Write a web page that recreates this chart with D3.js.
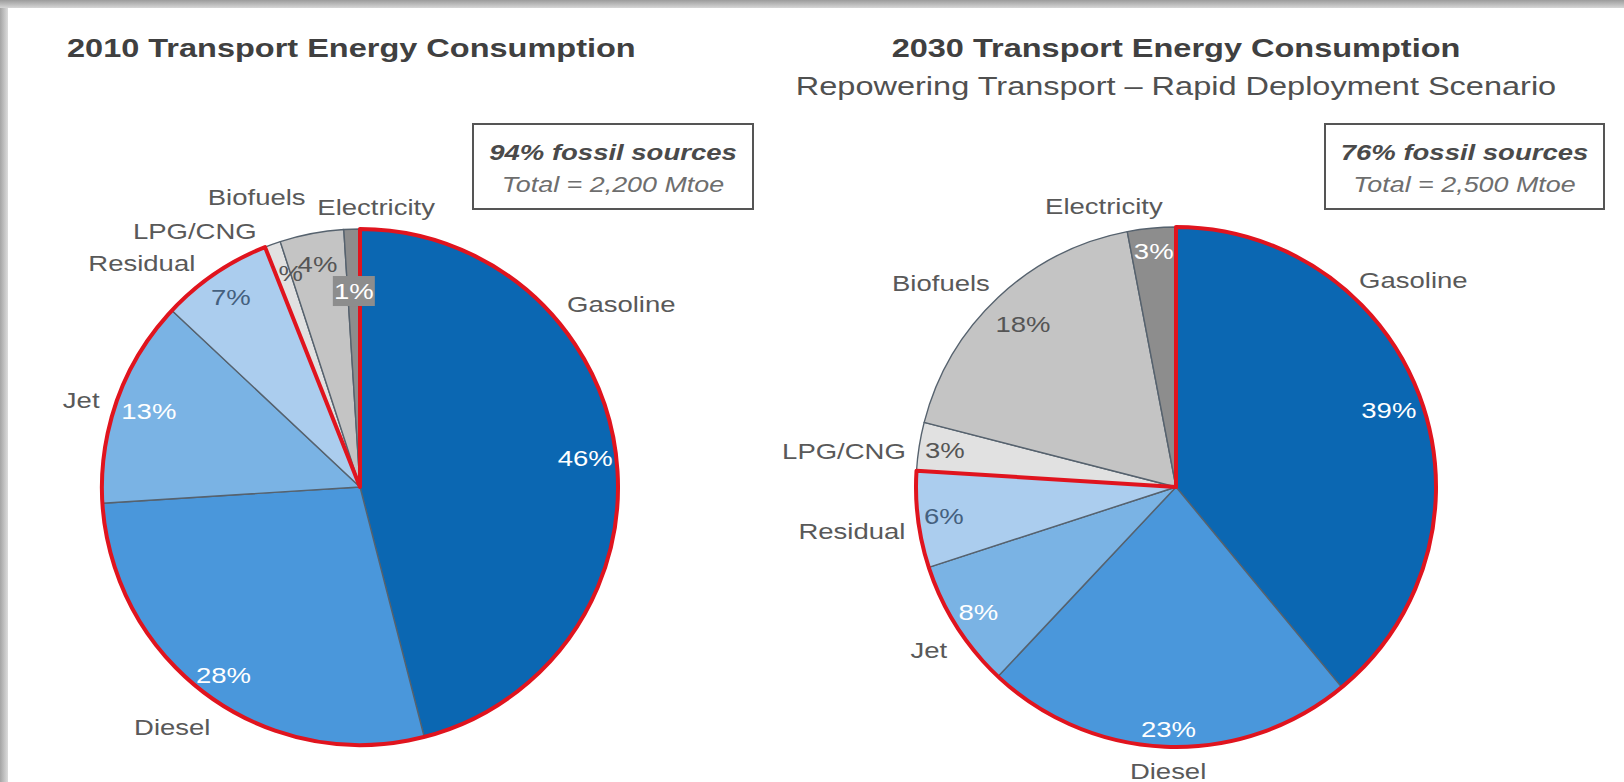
<!DOCTYPE html>
<html>
<head>
<meta charset="utf-8">
<script src="https://cdn.jsdelivr.net/npm/d3@7"></script>
<style>
  body { margin: 0; background: #fff; }
  svg { display: block; font-family: "Liberation Sans", Arial, sans-serif; }
</style>
</head>
<body>
<div id="chart"></div>
<script>
var width = 1624, height = 782;

// data
var categories = ["Gasoline", "Diesel", "Jet", "Residual", "LPG/CNG", "Biofuels", "Electricity"];
var share2010 = [46, 28, 13, 7, 1, 4, 1];
var share2030 = [39, 23, 8, 6, 3, 18, 3];
var fossilCats = ["Gasoline", "Diesel", "Jet", "Residual"];
var totalMtoe = [2200, 2500];
var titles = ["2010 Transport Energy Consumption", "2030 Transport Energy Consumption"];
var subtitle = "Repowering Transport \u2013 Rapid Deployment Scenario";

// styling
var sliceColors = ["#0b67b2", "#4a97db", "#7ab3e4", "#abcdee", "#e1e1e1", "#c4c4c4", "#8d8d8d"];
var pctColors = ["#fff", "#fff", "#fff", "#44607e", "#555", "#555", "#fff"];
var SX = 1.25; // source text is drawn wide

// layout for each pie
var pies = [
  { values: share2010, cx: 360, cy: 487, r: 258,
    names: [[55, 319], [218, 305], [287.3, 292], [315.8, 313], [327.2, 305], [340.4, 308], [3.3, 280]],
    pctR: [0.88, 0.9, 0.87, 0.89, 0.88, 0.88, 0.76],
    boxed: "Electricity",
    note: { x: 473, y: 124, w: 280, h: 85 } },
  { values: share2030, cx: 1176, cy: 487, r: 260,
    names: [[48.9, 315], [181.6, 284], [236.6, 296], [262.3, 327], [276.2, 334], [310.9, 311], [345.6, 290]],
    pctR: [0.87, 0.93, 0.9, 0.9, 0.9, 0.86, 0.91],
    boxed: null,
    note: { x: 1325, y: 124, w: 279, h: 85 } }
];

var svg = d3.select("#chart").append("svg")
  .attr("width", width)
  .attr("height", height);

// frame shadow
var defs = svg.append("defs");
var gTop = defs.append("linearGradient").attr("id", "shTop")
  .attr("x1", 0).attr("y1", 0).attr("x2", 0).attr("y2", 1);
gTop.append("stop").attr("offset", 0).attr("stop-color", "#9c9c9c");
gTop.append("stop").attr("offset", 1).attr("stop-color", "#d6d6d6");
var gLeft = defs.append("linearGradient").attr("id", "shLeft")
  .attr("x1", 0).attr("y1", 0).attr("x2", 1).attr("y2", 0);
gLeft.append("stop").attr("offset", 0).attr("stop-color", "#a4a4a4");
gLeft.append("stop").attr("offset", 1).attr("stop-color", "#dcdcdc");

svg.append("rect").attr("width", width).attr("height", height).attr("fill", "#fff");
svg.append("rect").attr("x", 0).attr("y", 0).attr("width", 8).attr("height", height)
  .attr("fill", "url(#shLeft)");
svg.append("rect").attr("x", 0).attr("y", 0).attr("width", width).attr("height", 8)
  .attr("fill", "url(#shTop)");

function place(sel, x, y) {
  return sel.attr("transform", "translate(" + x + "," + y + ") scale(" + SX + ",1)");
}

// titles
place(svg.append("text"), 67, 57)
  .attr("font-size", 26).attr("font-weight", "bold").attr("fill", "#404040")
  .text(titles[0]);
place(svg.append("text"), 1176, 57)
  .attr("text-anchor", "middle")
  .attr("font-size", 26).attr("font-weight", "bold").attr("fill", "#404040")
  .text(titles[1]);
place(svg.append("text"), 1176, 95)
  .attr("text-anchor", "middle")
  .attr("font-size", 26).attr("fill", "#505050")
  .text(subtitle);

var pie = d3.pie().sort(null).value(function(d) { return d.v; });
var toRad = Math.PI / 180;

pies.forEach(function(p, pi) {
  var data = categories.map(function(c, i) { return { cat: c, v: p.values[i], i: i }; });
  var arcs = pie(data);
  var arc = d3.arc().innerRadius(0).outerRadius(p.r);

  var g = svg.append("g")
    .attr("transform", "translate(" + p.cx + "," + p.cy + ")");

  g.selectAll(".slice")
    .data(arcs)
    .enter().append("path")
      .attr("class", "slice")
      .attr("d", arc)
      .attr("fill", function(d) { return sliceColors[d.data.i]; })
      .attr("stroke", "#56626e")
      .attr("stroke-width", 1.4)
      .attr("stroke-linejoin", "round");

  // fossil wedge end angle
  var fossilArcs = arcs.filter(function(d) { return fossilCats.indexOf(d.data.cat) >= 0; });
  var fossilEnd = d3.max(fossilArcs, function(d) { return d.endAngle; });
  var fossilShare = d3.sum(fossilArcs, function(d) { return d.data.v; });

  // non-fossil labels stay inside their own wedge
  var clipId = "nf" + pi;
  defs.append("clipPath").attr("id", clipId)
    .append("path")
      .attr("transform", "translate(" + p.cx + "," + p.cy + ")")
      .attr("d", d3.arc()({ startAngle: fossilEnd, endAngle: 2 * Math.PI, innerRadius: 0, outerRadius: p.r + 60 }));
  var fossilLabels = svg.append("g");
  var otherLabels = svg.append("g").attr("clip-path", "url(#" + clipId + ")");

  // percent labels
  arcs.forEach(function(d) {
    if (d.data.cat === p.boxed) return;
    var mid = (d.startAngle + d.endAngle) / 2;
    var pt = d3.pointRadial(mid, p.r * p.pctR[d.data.i]);
    var host = fossilCats.indexOf(d.data.cat) >= 0 ? fossilLabels : otherLabels;
    place(host.append("text"), p.cx + pt[0], p.cy + pt[1])
      .attr("text-anchor", "middle")
      .attr("dy", "0.36em")
      .attr("font-size", 22)
      .attr("fill", pctColors[d.data.i])
      .text(d.data.v + "%");
  });

  // red outline round fossil sources
  g.append("path")
    .attr("d", d3.arc()({ startAngle: 0, endAngle: fossilEnd, innerRadius: 0, outerRadius: p.r }))
    .attr("fill", "none")
    .attr("stroke", "#e0141e")
    .attr("stroke-width", 4)
    .attr("stroke-linejoin", "round");

  // boxed label (drawn over the outline)
  arcs.forEach(function(d) {
    if (d.data.cat !== p.boxed) return;
    var mid = (d.startAngle + d.endAngle) / 2;
    var pt = d3.pointRadial(mid, p.r * p.pctR[d.data.i]);
    var x = p.cx + pt[0], y = p.cy + pt[1];
    svg.append("rect")
      .attr("x", x - 21).attr("y", y - 15)
      .attr("width", 42).attr("height", 30)
      .attr("fill", "#8d8d8d");
    place(svg.append("text"), x, y)
      .attr("text-anchor", "middle")
      .attr("dy", "0.36em")
      .attr("font-size", 22)
      .attr("fill", "#fff")
      .text(d.data.v + "%");
  });

  // category names
  categories.forEach(function(c, i) {
    var pt = d3.pointRadial(p.names[i][0] * toRad, p.names[i][1]);
    place(svg.append("text"), p.cx + pt[0], p.cy + pt[1])
      .attr("text-anchor", "middle")
      .attr("dy", "0.36em")
      .attr("font-size", 22)
      .attr("fill", "#595959")
      .text(c);
  });

  // note box
  var n = p.note;
  svg.append("rect")
    .attr("x", n.x).attr("y", n.y)
    .attr("width", n.w).attr("height", n.h)
    .attr("fill", "#fff")
    .attr("stroke", "#555")
    .attr("stroke-width", 2);
  place(svg.append("text"), n.x + n.w / 2, n.y + 36)
    .attr("text-anchor", "middle")
    .attr("font-size", 22).attr("font-weight", "bold").attr("font-style", "italic")
    .attr("fill", "#4a4a4a")
    .text(fossilShare + "% fossil sources");
  place(svg.append("text"), n.x + n.w / 2, n.y + 68)
    .attr("text-anchor", "middle")
    .attr("font-size", 21.5).attr("font-style", "italic")
    .attr("fill", "#6e6e6e")
    .text("Total = " + d3.format(",")(totalMtoe[pi]) + " Mtoe");
});
</script>
</body>
</html>
